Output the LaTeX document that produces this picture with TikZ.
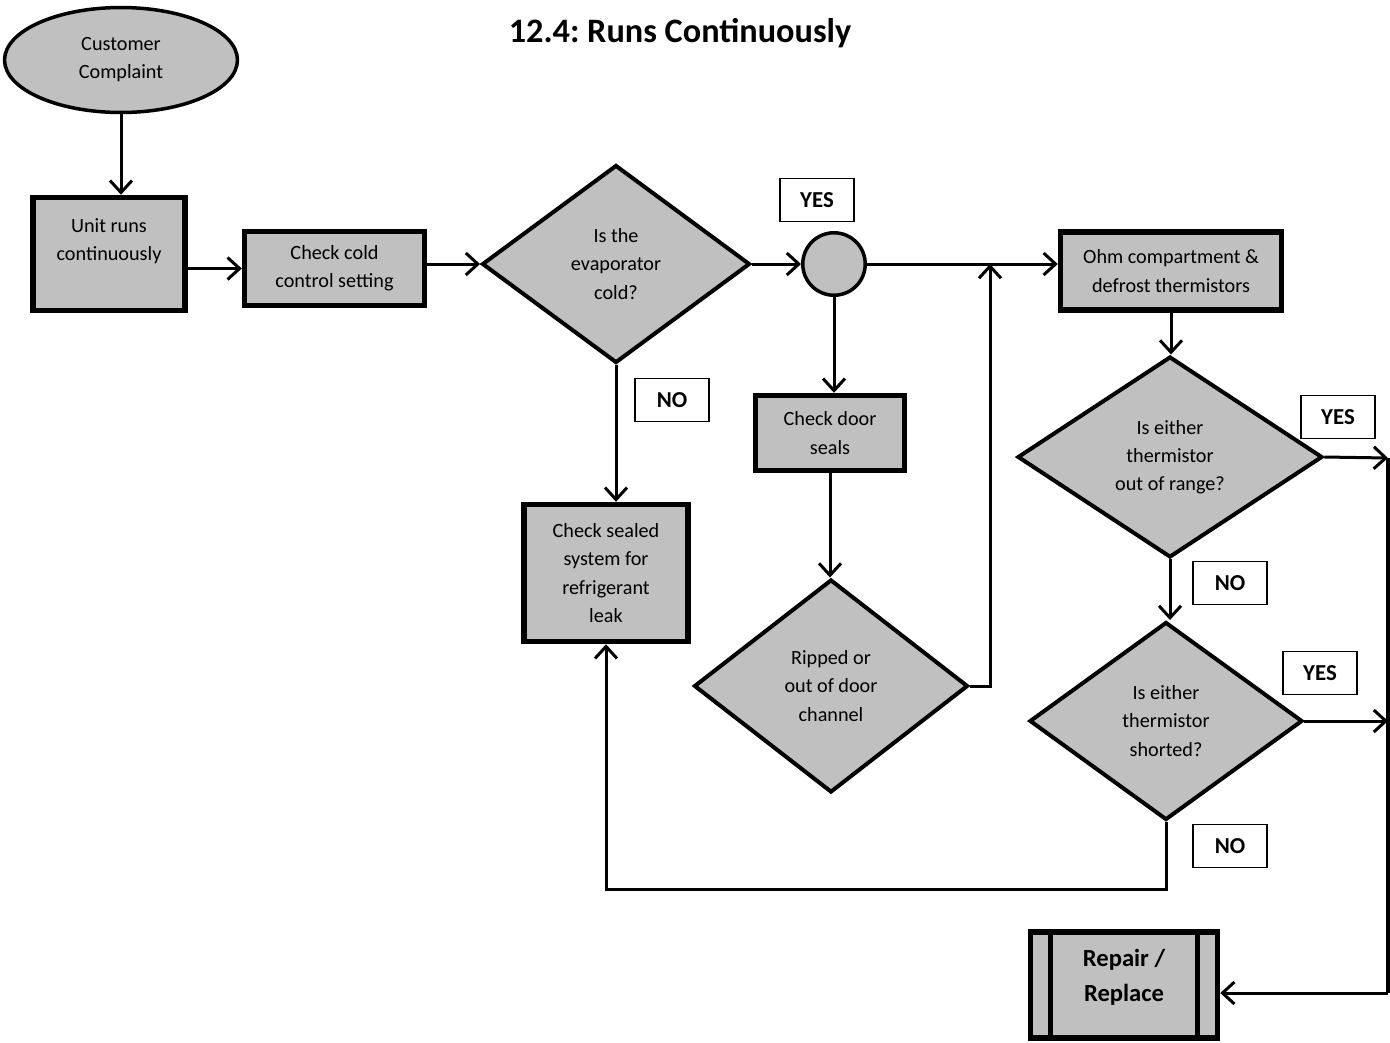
\documentclass[tikz,border=0pt]{standalone}
\usepackage{fontspec}
\setmainfont{Carlito}
\usetikzlibrary{shapes.geometric, arrows.meta, calc}
\definecolor{boxgray}{RGB}{192,192,192}
\newcommand{\flowfont}{\fontsize{11.5}{16}\selectfont}
\frenchspacing

\begin{document}
\begin{tikzpicture}[x=0.02cm, y=-0.02cm,
  procbox/.style={draw, fill=boxgray, line width=0.11cm, align=center, inner sep=0pt, font=\flowfont},
  decision/.style={diamond, draw, fill=boxgray, line width=0.08cm, align=center, inner sep=0pt, font=\flowfont},
  answer/.style={draw, fill=white, line width=0.03cm, minimum width=1.48cm, minimum height=0.86cm, inner sep=0pt, font=\fontsize{13}{15}\selectfont\bfseries},
  flow/.style={line width=0.06cm, -{Straight Barb[length=0.24cm, width=0.44cm]}}
]
  \useasboundingbox (0,0) rectangle (1390,1042);

  \node[font=\fontsize{19.5}{22}\selectfont\bfseries] (title) at (680,33) {12.4: Runs Continuously};

  % start and first steps
  \node[ellipse, draw, fill=boxgray, line width=0.07cm, inner sep=0pt, align=center, font=\flowfont,
        minimum width=4.66cm, minimum height=2.1cm] (complaint) at (121,60) {Customer\\Complaint};
  \node[procbox, minimum width=3.04cm, minimum height=2.26cm, text depth=16pt] (unit) at (109,254) {Unit runs\\continuously};
  \node[procbox, minimum width=3.6cm, minimum height=1.48cm] (cold) at (334.5,268.5) {Check cold\\control setting};
  \node[decision, minimum width=5.36cm, minimum height=3.96cm] (evap) at (616,264) {Is the\\evaporator\\cold?};
  \node[circle, draw, fill=boxgray, line width=0.07cm, minimum size=1.25cm, inner sep=0pt] (circ) at (834,264) {};

  % middle column
  \node[procbox, minimum width=2.98cm, minimum height=1.5cm] (door) at (830,433) {Check door\\seals};
  \node[procbox, minimum width=3.28cm, minimum height=2.74cm] (sealed) at (606,573) {Check sealed\\system for\\refrigerant\\leak};
  \node[decision, minimum width=5.48cm, minimum height=4.26cm] (ripped) at (831,686) {Ripped or\\out of door\\channel};

  % right column
  \node[procbox, minimum width=4.42cm, minimum height=1.56cm] (ohm) at (1171,271) {Ohm compartment \&\\defrost thermistors};
  \node[decision, minimum width=6.1cm, minimum height=4.02cm] (range) at (1170,457) {Is either\\thermistor\\out of range?};
  \node[decision, minimum width=5.46cm, minimum height=3.96cm] (short) at (1166,721) {Is either\\thermistor\\shorted?};
  \node[procbox, minimum width=3.74cm, minimum height=2.12cm, text depth=11pt, font=\fontsize{14}{20}\selectfont\bfseries] (repair) at (1124,985) {Repair /\\Replace};
  \draw[line width=0.11cm] ([xshift=0.45cm]repair.north west) -- ([xshift=0.45cm]repair.south west);
  \draw[line width=0.11cm] ([xshift=-0.45cm]repair.north east) -- ([xshift=-0.45cm]repair.south east);

  % answers
  \node[answer] (yes1) at (817,200) {YES};
  \node[answer] (no1) at (672,400) {NO};
  \node[answer] (yes2) at (1338,417) {YES};
  \node[answer] (no2) at (1230,583) {NO};
  \node[answer] (yes3) at (1320,673) {YES};
  \node[answer] (no3) at (1230,846) {NO};

  \coordinate (join) at (990,264);
  \coordinate (railtop) at (1388,458);
  \coordinate (railbot) at (1388,993);
  \coordinate (back) at (1166,889);

  % connectors
  \draw[flow] (complaint.south) -- (complaint.south |- unit.north);
  \draw[flow] (cold.west -| unit.east) -- (cold.west);
  \draw[flow] (evap.west -| cold.east) -- (evap.west);
  \draw[flow] (evap.east) -- (circ.west);
  \draw[flow] (circ.east) -- (circ.east -| ohm.west);
  \draw[flow] (circ.south) -- (circ.south |- door.north);
  \draw[flow] (door.south) -- (door.south |- ripped.north);
  \draw[flow] (ripped.east) -| (join);
  \draw[flow] (evap.south) -- (evap.south |- sealed.north);
  \draw[flow] (ohm.south) -- (ohm.south |- range.north);
  \draw[flow] (range.east) -- (railtop);
  \draw[flow] (range.south) -- (range.south |- short.north);
  \draw[flow] (short.east) -- (short.east -| railtop);
  \draw[line width=0.09cm] (railtop) -- (railbot);
  \draw[flow] (railbot) -- (railbot -| repair.east);
  \draw[flow] (short.south) -- (back) -| (sealed.south);
\end{tikzpicture}
\end{document}
